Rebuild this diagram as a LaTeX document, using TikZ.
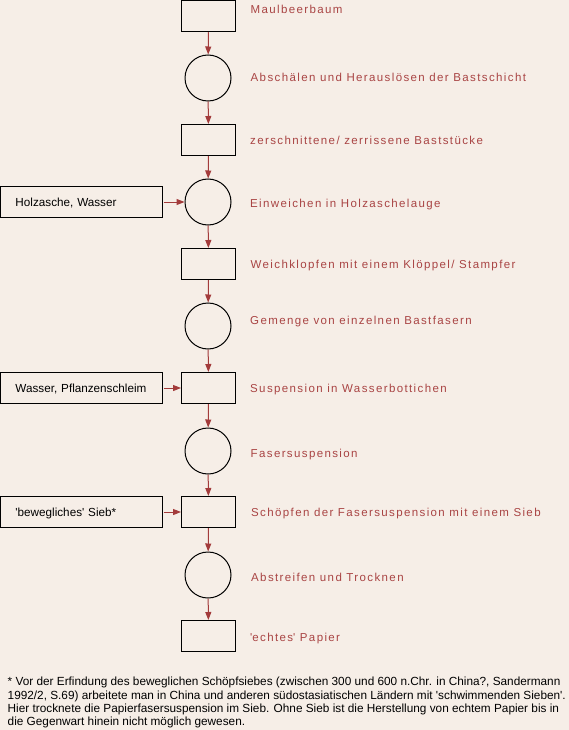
\documentclass[tikz,border=0pt]{standalone}
\usepackage{fontspec}
\setmainfont{Liberation Sans}
\newfontfamily\labfont[LetterSpace=12]{Liberation Sans}
\usetikzlibrary{arrows.meta}
\definecolor{bg}{HTML}{F6EEE7}
\definecolor{labcol}{HTML}{A94444}
\definecolor{arrcol}{HTML}{A33B3B}
\begin{document}
\begin{tikzpicture}[x=1pt,y=-1pt,
  procbox/.style={draw=black,line width=1pt,minimum width=54pt,minimum height=31pt,inner sep=0pt},
  statecirc/.style={circle,draw=black,line width=1pt,minimum size=46pt,inner sep=0pt},
  inbox/.style={draw=black,line width=1pt,text width=131.5pt,align=left,inner xsep=15pt,inner ysep=0pt,
    minimum height=31pt,text height=9pt,text depth=0pt,
    font=\fontsize{11.7}{13.3}\selectfont},
  steplab/.style={anchor=base west,inner sep=0pt,text=labcol,font=\labfont\fontsize{11.5}{13}\selectfont},
  fnote/.style={anchor=base west,inner sep=0pt,text=black,font=\fontsize{11.8}{13.3}\selectfont},
  flow/.style={draw=arrcol,line width=1pt,-{Triangle[length=8pt,width=6pt]}}]
\fill[bg] (0,0) rectangle (569,730);
\useasboundingbox (0,0) rectangle (569,730);
% main column
\node[procbox]   (s1)  at (208.5,16.25) {};
\node[statecirc] (s2)  at (208,78) {};
\node[procbox]   (s3)  at (208.5,140) {};
\node[statecirc] (s4)  at (208,202) {};
\node[procbox]   (s5)  at (208.5,264) {};
\node[statecirc] (s6)  at (208,326) {};
\node[procbox]   (s7)  at (208.5,388) {};
\node[statecirc] (s8)  at (208,451) {};
\node[procbox]   (s9)  at (208.5,512) {};
\node[statecirc] (s10) at (208,575) {};
\node[procbox]   (s11) at (208.5,636) {};
% inputs
\node[inbox] (i4) at (81.25,202) {Holzasche, Wasser};
\node[inbox] (i7) at (81.25,388) {Wasser, Pflanzenschleim};
\node[inbox] (i9) at (81.25,512) {\textquotesingle bewegliches\textquotesingle\ Sieb*};
% labels
\node[steplab] (l1)  at (250.5,14)    {Maulbeerbaum};
\node[steplab] (l2)  at (250.5,82)    {Abschälen und Herauslösen der Bastschicht};
\node[steplab] (l3)  at (250,145)     {zerschnittene/ zerrissene Baststücke};
\node[steplab] (l4)  at (250,207)     {Einweichen in Holzaschelauge};
\node[steplab] (l5)  at (250.5,268.5) {Weichklopfen mit einem Klöppel/ Stampfer};
\node[steplab] (l6)  at (250,324)     {Gemenge von einzelnen Bastfasern};
\node[steplab] (l7)  at (250,392)     {Suspension in Wasserbottichen};
\node[steplab] (l8)  at (250.5,457)   {Fasersuspension};
\node[steplab] (l9)  at (251,516.5)   {Schöpfen der Fasersuspension mit einem Sieb};
\node[steplab] (l10) at (251,581)     {Abstreifen und Trocknen};
\node[steplab] (l11) at (250,641.5)   {\textquotesingle echtes\textquotesingle\ Papier};
% arrows
\draw[flow] (s1) -- (s2);
\draw[flow] (s2) -- (s3);
\draw[flow] (s3) -- (s4);
\draw[flow] (s4) -- (s5);
\draw[flow] (s5) -- (s6);
\draw[flow] (s6) -- (s7);
\draw[flow] (s7) -- (s8);
\draw[flow] (s8) -- (s9);
\draw[flow] (s9) -- (s10);
\draw[flow] (s10) -- (s11);
\draw[flow] (i4.east) ++(1,0) -- (s4.west);
\draw[flow] (i7.east) ++(1,0) -- (s7.west);
\draw[flow] (i9.east) ++(1,0) -- (s9.west);
% footnote
\node[fnote] (f1) at (7.5,685.7) {* Vor der Erfindung des beweglichen Schöpfsiebes (zwischen 300 und 600 n.Chr. in China?, Sandermann};
\node[fnote] (f2) at (7.5,699)   {1992/2, S.69) arbeitete man in China und anderen südostasiatischen Ländern mit \textquotesingle schwimmenden Sieben\textquotesingle.};
\node[fnote] (f3) at (7.5,712.3) {Hier trocknete die Papierfasersuspension im Sieb. Ohne Sieb ist die Herstellung von echtem Papier bis in};
\node[fnote] (f4) at (7.5,725.6) {die Gegenwart hinein nicht möglich gewesen.};
\end{tikzpicture}
\end{document}
